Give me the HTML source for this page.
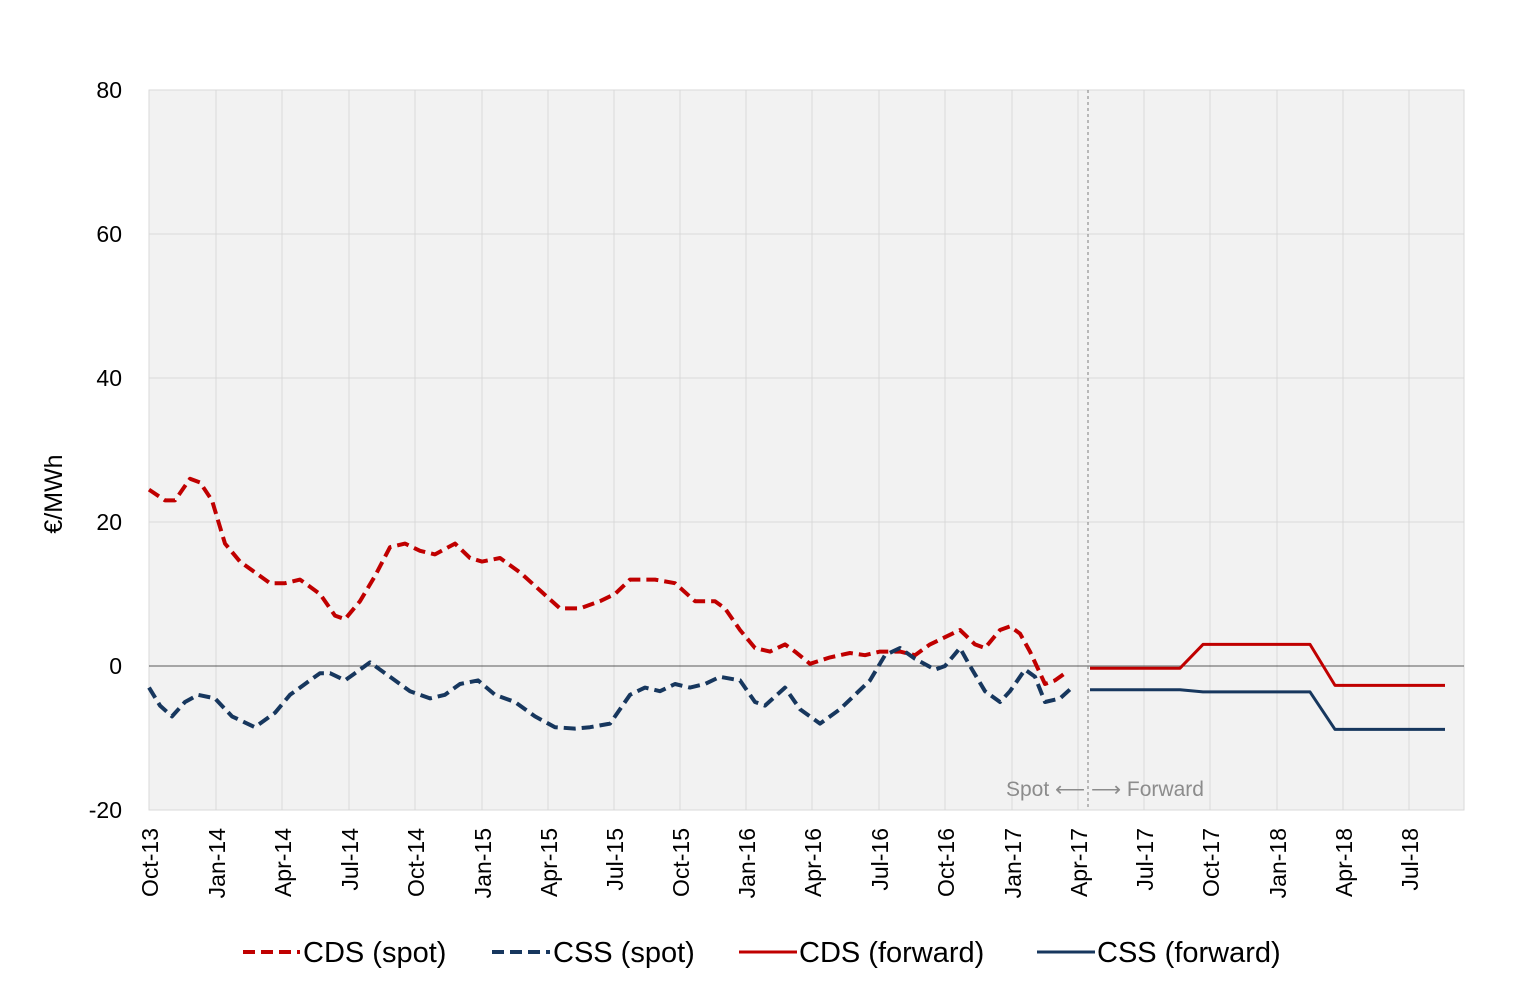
<!DOCTYPE html>
<html><head><meta charset="utf-8"><style>
body{margin:0;background:#fff;}
svg{display:block;font-family:"Liberation Sans",sans-serif;}
</style></head><body>
<svg width="1524" height="993" viewBox="0 0 1524 993">
<rect x="149" y="90" width="1315" height="720" fill="#f2f2f2" stroke="#d9d9d9"/>
<g stroke="#d9d9d9" stroke-width="1">
<line x1="149" y1="234" x2="1464" y2="234"/><line x1="149" y1="378" x2="1464" y2="378"/><line x1="149" y1="522" x2="1464" y2="522"/>
<line x1="216" y1="90" x2="216" y2="810"/><line x1="282" y1="90" x2="282" y2="810"/><line x1="349" y1="90" x2="349" y2="810"/><line x1="415" y1="90" x2="415" y2="810"/><line x1="482" y1="90" x2="482" y2="810"/><line x1="548" y1="90" x2="548" y2="810"/><line x1="614" y1="90" x2="614" y2="810"/><line x1="680" y1="90" x2="680" y2="810"/><line x1="746" y1="90" x2="746" y2="810"/><line x1="812" y1="90" x2="812" y2="810"/><line x1="879" y1="90" x2="879" y2="810"/><line x1="945" y1="90" x2="945" y2="810"/><line x1="1012" y1="90" x2="1012" y2="810"/><line x1="1078" y1="90" x2="1078" y2="810"/><line x1="1144" y1="90" x2="1144" y2="810"/><line x1="1210" y1="90" x2="1210" y2="810"/><line x1="1277" y1="90" x2="1277" y2="810"/><line x1="1343" y1="90" x2="1343" y2="810"/><line x1="1409" y1="90" x2="1409" y2="810"/>
</g>
<line x1="149" y1="666" x2="1464" y2="666" stroke="#595959" stroke-width="1"/>
<line x1="1088" y1="90" x2="1088" y2="810" stroke="#7f7f7f" stroke-dasharray="3,3"/>
<g font-size="23" fill="#000" text-anchor="end">
<text x="122" y="98">80</text><text x="122" y="242">60</text><text x="122" y="386">40</text><text x="122" y="530">20</text><text x="122" y="674">0</text><text x="122" y="818">-20</text>
</g>
<text transform="translate(62,494) rotate(-90)" font-size="25" text-anchor="middle">€/MWh</text>
<g font-size="23" text-anchor="end">
<text transform="translate(158,828) rotate(-90)">Oct-13</text><text transform="translate(225,828) rotate(-90)">Jan-14</text><text transform="translate(291,828) rotate(-90)">Apr-14</text><text transform="translate(358,828) rotate(-90)">Jul-14</text><text transform="translate(424,828) rotate(-90)">Oct-14</text><text transform="translate(491,828) rotate(-90)">Jan-15</text><text transform="translate(557,828) rotate(-90)">Apr-15</text><text transform="translate(623,828) rotate(-90)">Jul-15</text><text transform="translate(689,828) rotate(-90)">Oct-15</text><text transform="translate(755,828) rotate(-90)">Jan-16</text><text transform="translate(821,828) rotate(-90)">Apr-16</text><text transform="translate(888,828) rotate(-90)">Jul-16</text><text transform="translate(954,828) rotate(-90)">Oct-16</text><text transform="translate(1021,828) rotate(-90)">Jan-17</text><text transform="translate(1087,828) rotate(-90)">Apr-17</text><text transform="translate(1153,828) rotate(-90)">Jul-17</text><text transform="translate(1219,828) rotate(-90)">Oct-17</text><text transform="translate(1286,828) rotate(-90)">Jan-18</text><text transform="translate(1352,828) rotate(-90)">Apr-18</text><text transform="translate(1418,828) rotate(-90)">Jul-18</text>
</g>
<text x="1006" y="796" font-size="21" fill="#8c8c8c">Spot ⟵  ⟶ Forward</text>
<g fill="none" stroke-width="4" stroke-linejoin="round">
<polyline stroke="#c00000" stroke-dasharray="12,6" points="149,489.6 165,500.4 175,500.4 190,478.8 200,482.4 212,500.4 225,543.6 240,561.6 255,572.4 270,583.2 285,583.2 300,579.6 320,594 335,615.6 345,619.2 360,601.2 375,576 390,547.2 405,543.6 420,550.8 435,554.4 455,543.6 470,558 482,561.6 500,558 520,572.4 540,590.4 560,608.4 580,608.4 600,601.2 615,594 630,579.6 655,579.6 675,583.2 695,601.2 715,601.2 725,608.4 740,630 755,648 770,651.6 785,644.4 795,651.6 810,663.8 830,657.4 850,653 865,655.2 880,651.6 900,651.6 915,655.2 930,644.4 945,637.2 960,630 975,644.4 985,648 1000,630 1010,626.4 1020,633.6 1030,651.6 1045,684 1055,680.4 1065,673.2"/>
<polyline stroke="#17375e" stroke-dasharray="12,6" points="149,687.6 160,705.6 172,716.4 185,702 198,694.8 215,698.4 232,716.4 255,727.2 275,712.8 290,694.8 305,684 320,673.2 330,673.2 345,680.4 355,673.2 370,662.4 390,676.8 410,691.2 430,698.4 445,694.8 460,684 478,680.4 495,694.8 515,702 535,716.4 555,727.2 575,728.6 590,727.2 610,723.6 630,694.8 645,687.6 660,691.2 675,684 690,687.6 705,684 720,676.8 740,680.4 755,702 765,705.6 785,687.6 800,709.2 820,723.6 840,709.2 855,694.8 870,680.4 885,655.2 900,648 915,658.8 935,669.6 945,666 960,648 970,666 985,691.2 1000,702 1010,691.2 1025,669.6 1035,676.8 1045,702 1060,698.4 1072,687.6"/>
<polyline stroke="#c00000" stroke-width="3" points="1090,668.2 1180,668.2 1203,644.4 1310,644.4 1335,685.4 1445,685.4"/>
<polyline stroke="#17375e" stroke-width="3" points="1090,689.8 1180,689.8 1203,691.9 1310,691.9 1335,729.4 1445,729.4"/>
</g>
<g font-size="29">
<line x1="243" y1="952" x2="300" y2="952" stroke="#c00000" stroke-width="4" stroke-dasharray="12,6"/>
<text x="303" y="962">CDS (spot)</text>
<line x1="492" y1="952" x2="550" y2="952" stroke="#17375e" stroke-width="4" stroke-dasharray="12,6"/>
<text x="553" y="962">CSS (spot)</text>
<line x1="739" y1="952" x2="797" y2="952" stroke="#c00000" stroke-width="3"/>
<text x="799" y="962">CDS (forward)</text>
<line x1="1037" y1="952" x2="1095" y2="952" stroke="#17375e" stroke-width="3"/>
<text x="1097" y="962">CSS (forward)</text>
</g>
</svg>
</body></html>
